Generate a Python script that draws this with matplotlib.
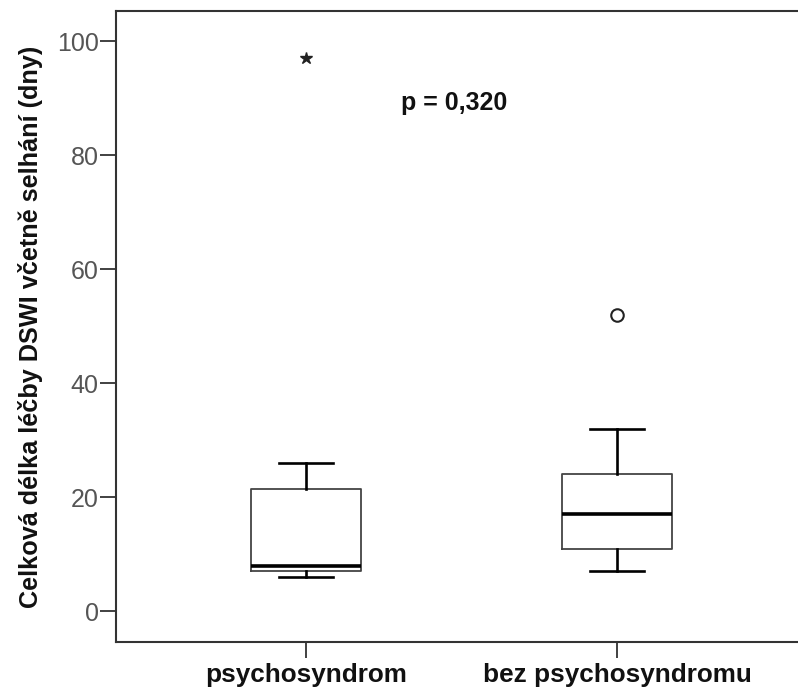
import matplotlib.pyplot as plt

# -------------------------
# data
# -------------------------

groups = ["psychosyndrom", "bez psychosyndromu"]
whis_lo = [6, 7]
q1 = [7, 11]
median = [8, 17]
q3 = [21.5, 24]
whis_hi = [26, 32]

# extreme values (star) and outliers (circle)
extremes = [[97], []]
outliers = [[], [52]]

p_text = "p = 0,320"
ylabel = "Celková délka léčby DSWI včetně selhání (dny)"
yticks = [0, 20, 40, 60, 80, 100]

# -------------------------
# plot
# -------------------------

plt.rcParams["font.family"] = ["Liberation Sans", "DejaVu Sans"]

fig = plt.figure(figsize=(7.98, 6.91), dpi=100)
ax = fig.add_axes([116 / 798, 49 / 691, 691 / 798, 631 / 691])

stats = []
for i in range(len(groups)):
    stats.append({
        "med": median[i], "q1": q1[i], "q3": q3[i],
        "whislo": whis_lo[i], "whishi": whis_hi[i],
        "fliers": [], "label": groups[i],
    })

pos = list(range(len(groups)))
ax.bxp(stats, positions=pos, widths=0.354, showfliers=False,
       boxprops=dict(color="#444444", linewidth=1.3),
       medianprops=dict(color="black", linewidth=2.6),
       whiskerprops=dict(color="black", linewidth=1.9),
       capprops=dict(color="black", linewidth=1.9),
       capwidths=0.174)

for i in pos:
    if extremes[i]:
        ax.plot([i] * len(extremes[i]), extremes[i], linestyle="none",
                marker="*", markersize=9, color="#222222")
    if outliers[i]:
        ax.plot([i] * len(outliers[i]), outliers[i], linestyle="none",
                marker="o", markersize=9, markerfacecolor="white",
                markeredgecolor="#222222", markeredgewidth=1.5)

ax.text(0.477, 89.2, p_text, ha="center", va="center",
        fontsize=18, fontweight="bold", color="#111111")

ax.set_xlim(-0.61, 1.61)
ax.set_ylim(-5.4, 105.3)
ax.set_yticks(yticks)
ax.set_yticklabels([str(v) for v in yticks], fontsize=18, color="#555555")
ax.set_xticks(pos)
ax.set_xticklabels(groups, fontsize=18.8, fontweight="bold", color="#111111")
ax.set_ylabel(ylabel, fontsize=18.2, fontweight="bold", color="#111111",
              labelpad=9.6)

ax.tick_params(axis="both", direction="out", length=11.5, width=1.3,
               color="#333333")
ax.tick_params(axis="y", pad=1)
ax.tick_params(axis="x", pad=3.5)

for side in ["left", "bottom", "top"]:
    ax.spines[side].set_color("#333333")
    ax.spines[side].set_linewidth(1.5)
ax.spines["right"].set_visible(False)

fig.savefig("out.png", dpi=100)
